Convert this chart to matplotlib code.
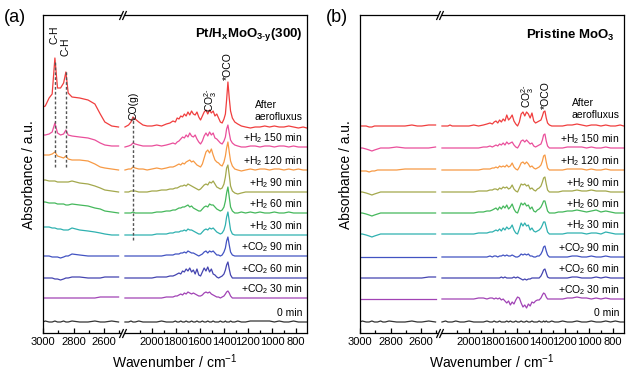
import matplotlib
matplotlib.use('Agg')

import matplotlib.pyplot as plt
import numpy as np

plt.rcParams['font.family'] = ['Liberation Sans', 'DejaVu Sans']
plt.rcParams['mathtext.fontset'] = 'custom'
plt.rcParams['mathtext.rm'] = 'Liberation Sans'
plt.rcParams['mathtext.it'] = 'Liberation Sans:italic'
plt.rcParams['mathtext.bf'] = 'Liberation Sans:bold'

# wavenumber grids of the two pieces of the broken axis
wn_left = [3000, 2985, 2960, 2940, 2922, 2905, 2885, 2865, 2850, 2835,
           2810, 2760, 2705, 2660, 2625, 2595, 2550, 2505]
wn_right = [2225, 2195, 2175, 2158, 2140, 2110, 2075, 2040,
            2000, 1960, 1920, 1880, 1850, 1825, 1805, 1790,
            1775, 1760, 1745, 1730, 1715, 1700, 1685, 1670,
            1655, 1640, 1625, 1610, 1595, 1580, 1565, 1550,
            1535, 1520, 1505, 1490, 1475, 1460, 1445, 1430,
            1415, 1400, 1388, 1378, 1367, 1356, 1345, 1330,
            1310, 1285, 1255, 1220, 1180, 1140, 1100, 1060,
            1020, 980, 940, 900, 860, 820, 780, 740,
            710]

labels = ['After\naerofluxus', '+H$_2$ 150 min', '+H$_2$ 120 min', '+H$_2$ 90 min',
          '+H$_2$ 60 min', '+H$_2$ 30 min', '+CO$_2$ 90 min', '+CO$_2$ 60 min',
          '+CO$_2$ 30 min', '0 min']
colors = ['#f03e3e', '#ea4f9b', '#f79a45', '#a3a84c', '#45b85c',
          '#2fb1b0', '#4253c2', '#4444b0', '#a143b5', '#333333']

# ---- panel (a) Pt/HxMoO3-y(300), intensities relative to each trace offset
a_after_L = [21, 22, 30, 34, 70, 40, 40, 45, 56, 35, 31, 30, 28, 24, 14, 6, 2, 1]
a_h150_L = [12, 12, 13, 15, 24, 14, 12, 13, 17, 12, 11, 10, 9, 7, 4, 2, 1, 1]
a_h120_L = [15, 15, 15, 16, 18, 14, 13, 12, 14, 11, 10, 10, 9, 6, 3, 2, 1, 0]
a_h90_L = [12, 12, 11, 11, 11, 10, 10, 10, 10, 10, 11, 9, 8, 6, 4, 2, 1, 0]
a_h60_L = [11, 11, 10, 10, 10, 9, 9, 9, 8, 8, 9, 8, 7, 5, 4, 2, 1, 0]
a_h30_L = [8, 8, 8, 7, 7, 6, 6, 5, 5, 5, 7, 5, 4, 3, 2, 1, 0, 0]
a_c90_L = [0, 0, 0, -1, -1, -1, -2, -1, 0, 0, 2, 1, 0, 0, 0, 0, 0, 0]
a_c60_L = [0, 0, 0, 0, -1, -1, -2, -1, 0, 0, 1, 1, 0, 0, 0, 1, 1, 1]
a_c30_L = [0, 0, 0, 0, 0, 0, 0, 0, 0, 0, 0, 0, 0, 0, 1, 1, 1, 1]
a_zero_L = [0, 1, 0, 0, 1, 0, 0, 1, 0, 0, 1, 0, 0, 1, 0, 0, 1, 0]

a_after_R = [1, 3, 6, 11, 9, 6, 3, 2,
             2, 3, 2, 4, 5, 7, 6, 10,
             9, 12, 11, 14, 12, 16, 13, 17,
             14, 13, 16, 11, 8, 12, 16, 18,
             14, 18, 15, 17, 12, 14, 10, 6,
             5, 9, 14, 28, 46, 30, 17, 10,
             6, 4, 2, 1, 0, 1, 1, 2,
             1, 2, 1, 1, 2, 1, 0, 1,
             0]
a_h150_R = [0, 1, 2, 4, 3, 2, 1, 1,
            1, 2, 1, 2, 3, 4, 3, 5,
            6, 8, 10, 9, 12, 10, 14, 11,
            10, 12, 8, 5, 3, 6, 11, 14,
            11, 15, 12, 14, 9, 8, 6, 4,
            3, 6, 10, 18, 22, 14, 7, 4,
            2, 1, 0, 0, 1, 1, 0, 1,
            1, 0, 1, 1, 0, 1, 0, 0,
            0]
a_h120_R = [0, 1, 1, 3, 2, 1, 1, 0,
            1, 2, 1, 2, 3, 3, 4, 5,
            6, 5, 7, 6, 8, 9, 10, 8,
            9, 7, 5, 4, 3, 6, 12, 18,
            20, 17, 21, 15, 10, 8, 7, 5,
            4, 8, 14, 22, 28, 18, 9, 4,
            1, 0, -1, 0, 1, 0, 1, 1,
            0, 1, 1, 0, 1, 0, 1, 0,
            0]
a_h90_R = [0, 0, 1, 1, 1, 0, 0, 0,
           1, 1, 2, 2, 3, 3, 4, 4,
           5, 6, 6, 7, 6, 8, 7, 6,
           5, 4, 3, 2, 3, 5, 7, 8,
           7, 10, 9, 11, 8, 5, 4, 3,
           4, 8, 15, 24, 27, 17, 6, 1,
           -1, -2, -1, 0, 0, 0, 0, 0,
           0, 0, 0, 0, 0, 0, 0, 0,
           0]
a_h60_R = [0, 0, 0, 1, 0, 0, 0, 0,
           0, 1, 1, 2, 2, 3, 3, 4,
           5, 5, 6, 6, 7, 8, 6, 7,
           5, 4, 3, 2, 2, 4, 6, 7,
           6, 9, 8, 8, 6, 4, 3, 2,
           3, 6, 12, 20, 26, 16, 6, 2,
           0, 0, 1, 0, 1, 0, 1, 0,
           0, 1, 0, 0, 1, 0, 0, 0,
           0]
a_h30_R = [0, 0, 0, 0, 0, 0, 0, 0,
           0, 1, 1, 1, 2, 2, 3, 3,
           3, 4, 4, 5, 4, 6, 5, 5,
           4, 3, 2, 1, 1, 3, 5, 6,
           5, 7, 6, 7, 5, 3, 2, 1,
           2, 5, 10, 18, 23, 14, 5, 1,
           0, 0, 0, 0, 0, 0, 0, 0,
           0, 0, 0, 0, 0, 0, 0, 0,
           0]
a_c90_R = [0, 0, 0, 0, 0, 0, 0, 0,
           0, 0, 0, 1, 1, 1, 2, 2,
           2, 3, 3, 4, 3, 5, 4, 3,
           3, 2, 1, 0, 1, 2, 4, 5,
           3, 5, 4, 5, 3, 1, 1, 0,
           1, 4, 8, 15, 19, 11, 4, 1,
           0, 0, 0, 0, 0, 0, 0, 0,
           0, 0, 0, 0, 0, 0, 0, 0,
           0]
a_c60_R = [0, 0, 0, 0, 0, 0, 0, 0,
           0, 1, 1, 1, 2, 2, 3, 4,
           5, 4, 7, 6, 9, 7, 10, 6,
           8, 4, 9, 3, 2, 6, 10, 7,
           11, 6, 9, 4, 3, 1, 0, 1,
           2, 4, 8, 13, 16, 9, 3, 0,
           0, 0, 0, 0, 0, 0, 0, 0,
           0, 0, 0, 0, 0, 0, 0, 0,
           0]
a_c30_R = [0, 0, 0, 0, 0, 0, 0, 0,
           0, 0, 0, 1, 1, 1, 2, 2,
           3, 4, 3, 5, 4, 6, 5, 4,
           5, 4, 3, 2, 2, 3, 5, 6,
           5, 6, 4, 3, 2, 1, 1, 0,
           1, 2, 4, 6, 7, 5, 2, 0,
           0, 0, 0, 0, 0, 0, 0, 0,
           0, 0, 0, 0, 0, 0, 0, 0,
           0]
a_zero_R = [0, 0, 1, 0, 0, 1, 0, 0,
            0, 0, 1, 0, 0, 0, 1, 0,
            0, 1, 0, 0, 1, 0, 0, 1,
            0, 0, 1, 0, 0, 1, 0, 0,
            1, 0, 0, 1, 0, 0, 0, 1,
            0, 0, 1, 0, 0, 0, 1, 0,
            0, 1, 0, 0, 1, 1, 1, 1,
            1, 0, 1, 0, 0, 1, 0, 0,
            0]
a_offsets = [205, 186, 163, 141, 120, 98, 77, 55, 35, 11]

# ---- panel (b) Pristine MoO3
b_after_L = [0, 0, 0, -1, -1, 0, 0, 0, 0, 0, 0, 0, 0, 1, 0, 0, 1, 1]
b_h150_L = [0, 0, -1, -2, -3, -2, -1, 0, 0, 0, 0, 1, 0, 0, 0, 0, 0, 1]
b_h120_L = [-1, -1, -1, -2, -1, -1, 0, 0, 0, 0, 0, 0, 1, 1, 1, 1, 1, 1]
b_h90_L = [0, 0, -1, -2, -3, -2, -1, 0, 0, 0, 0, 0, 0, 0, 0, 0, 0, 0]
b_h60_L = [0, 0, -1, -2, -3, -2, -1, 0, 0, 0, 0, 0, 0, 0, 0, 0, 0, 0]
b_h30_L = [0, 0, -1, -2, -3, -2, -1, 0, 0, 0, 0, 0, 0, 0, 0, 0, 0, 0]
b_c90_L = [0, 0, 0, 0, 0, 0, 0, 0, 0, 0, 0, 0, 0, 0, 0, 0, 0, 0]
b_c60_L = [0, 0, 0, 0, 0, 0, 0, 0, 0, 0, 0, 0, 0, 0, 0, 0, 1, 1]
b_c30_L = [0, 0, 0, 0, 0, 0, 0, 0, 0, 0, 0, 0, 0, 0, 0, 0, 0, 0]
b_zero_L = [0, 1, 0, 0, 1, 0, 0, 1, 0, 0, 1, 0, 0, 1, 0, 0, 1, 0]

b_after_R = [0, 0, 0, 1, 0, 0, 0, 0,
             0, 1, 0, 1, 2, 3, 2, 4,
             5, 3, 6, 4, 7, 5, 11, 6,
             8, 11, 5, 2, 0, 4, 12, 14,
             10, 14, 12, 8, 13, 5, 3, 4,
             5, 6, 10, 14, 15, 8, 3, 1,
             0, 0, 0, 0, 1, 1, 2, 1,
             0, 1, 1, 0, 1, 0, 0, 1,
             0]
b_h150_R = [0, 0, 0, 0, 0, 0, 0, 0,
            0, 0, 0, 1, 1, 2, 1, 2,
            3, 2, 4, 3, 5, 3, 6, 4,
            5, 6, 3, 1, 0, 3, 7, 8,
            6, 8, 6, 4, 5, 2, 1, 2,
            3, 4, 8, 13, 14, 7, 2, 0,
            0, 0, 0, 0, 1, 1, 1, 1,
            0, 1, 0, 0, 1, 0, 0, 0,
            0]
b_h120_R = [0, 0, 0, 0, 0, 0, 0, 0,
            0, 0, 0, 1, 1, 1, 2, 2,
            3, 2, 4, 3, 4, 3, 5, 3,
            4, 7, 3, 1, 0, 3, 7, 8,
            6, 8, 6, 3, 4, 2, 1, 2,
            3, 5, 9, 14, 15, 8, 2, 0,
            0, 0, 0, 0, 1, 1, 1, 1,
            0, 1, 0, 0, 1, 0, 0, 0,
            0]
b_h90_R = [0, 0, 0, 0, 0, 0, 0, 0,
           0, 0, 1, 1, 1, 2, 2, 3,
           3, 2, 4, 3, 5, 4, 5, 3,
           4, 7, 3, 1, 0, 4, 8, 7,
           8, 6, 7, 3, 4, 2, 1, 3,
           4, 6, 10, 14, 15, 8, 2, 0,
           0, 0, 0, 1, 1, 1, 2, 1,
           1, 2, 1, 1, 1, 0, 0, 0,
           0]
b_h60_R = [0, 0, 0, 0, 0, 0, 0, 0,
           0, 0, 1, 1, 2, 2, 3, 4,
           5, 3, 6, 4, 7, 5, 8, 4,
           6, 9, 4, 1, 0, 5, 10, 8,
           10, 7, 8, 4, 6, 2, 1, 3,
           4, 6, 9, 12, 12, 7, 2, 0,
           0, 0, 1, 1, 2, 2, 3, 2,
           1, 2, 3, 1, 2, 1, 0, 0,
           0]
b_h30_R = [0, 0, 0, 0, 0, 0, 0, 0,
           0, 0, 1, 1, 1, 2, 2, 3,
           4, 3, 5, 3, 6, 4, 7, 5,
           6, 9, 4, 1, 0, 5, 11, 8,
           11, 8, 9, 4, 6, 3, 2, 3,
           4, 6, 9, 12, 12, 7, 2, 0,
           0, 0, 0, 0, 1, 1, 1, 1,
           0, 1, 1, 0, 2, 1, 0, 0,
           0]
b_c90_R = [0, 0, 0, 0, 0, 0, 0, 0,
           0, 0, 0, 0, 0, 1, 0, 1,
           1, 0, 1, 1, 2, 1, 2, 1,
           1, 2, 1, 0, 0, 1, 3, 2,
           3, 2, 3, 1, 1, 0, 0, 1,
           1, 3, 6, 10, 11, 6, 2, 0,
           0, 0, 0, 0, 0, 1, 1, 0,
           0, 1, 0, 0, 1, 0, 0, 0,
           0]
b_c60_R = [0, 0, 0, 0, 0, 0, 0, 0,
           0, 0, 0, 0, 0, 0, 0, 0,
           0, 0, 0, 1, 0, 1, 0, 0,
           0, 0, 1, 0, 1, 0, -1, -2,
           -1, -2, -1, -1, 0, 0, 0, 0,
           0, 2, 5, 8, 9, 5, 1, 0,
           0, 0, 0, 0, 0, 1, 1, 0,
           0, 0, 1, 0, 1, 0, 0, 0,
           0]
b_c30_R = [0, 0, 0, 0, 0, 0, 0, 0,
           0, 0, 1, 1, 0, 1, 1, 0,
           1, 0, 1, -1, 0, -2, -4, -2,
           -6, -3, -5, -1, 2, 1, -4, -8,
           -6, -9, -5, -7, -3, -4, -2, -1,
           -1, 1, 4, 6, 5, 2, 0, 0,
           0, 0, 0, 0, 1, 1, 2, 1,
           1, 0, 1, 0, 1, 0, 0, 0,
           0]
b_zero_R = [0, 1, 0, 0, 0, 1, 0, 0,
            1, 0, 0, 0, 1, 0, 0, 1,
            0, 0, 1, 0, 0, 0, 1, 0,
            1, 0, 0, 1, 0, 0, 1, 0,
            0, 1, 0, 0, 1, 0, 0, 0,
            1, 0, 0, 1, 0, 1, 0, 0,
            1, 0, 0, 1, 0, 0, 1, 0,
            0, 1, 0, 0, 1, 0, 1, 0,
            0]
b_offsets = [207, 185, 163, 141, 120, 99, 76, 55, 34, 11]

a_left = [a_after_L, a_h150_L, a_h120_L, a_h90_L, a_h60_L, a_h30_L,
          a_c90_L, a_c60_L, a_c30_L, a_zero_L]
a_right = [a_after_R, a_h150_R, a_h120_R, a_h90_R, a_h60_R, a_h30_R,
           a_c90_R, a_c60_R, a_c30_R, a_zero_R]
b_left = [b_after_L, b_h150_L, b_h120_L, b_h90_L, b_h60_L, b_h30_L,
          b_c90_L, b_c60_L, b_c30_L, b_zero_L]
b_right = [b_after_R, b_h150_R, b_h120_R, b_h90_R, b_h60_R, b_h30_R,
           b_c90_R, b_c60_R, b_c30_R, b_zero_R]

W, H = 630, 371
fig = plt.figure(figsize=(W / 100, H / 100), dpi=100)


def setup_axes(x0):
    axl = fig.add_axes([x0 / W, 38 / H, 78 / W, 318 / H])
    axr = fig.add_axes([(x0 + 81) / W, 38 / H, 183 / W, 318 / H])
    axl.set_xlim(3000, 2489)
    axr.set_xlim(2233, 708)
    for ax in (axl, axr):
        ax.set_ylim(0, 318)
        ax.set_yticks([])
        ax.tick_params(axis='x', which='both', direction='in', labelsize=8, pad=3)
        ax.tick_params(axis='x', which='major', length=3.5, width=0.9)
        ax.tick_params(axis='x', which='minor', length=2, width=0.9)
        for s in ax.spines.values():
            s.set_linewidth(0.9)
    axl.spines['right'].set_visible(False)
    axr.spines['left'].set_visible(False)
    axl.set_xticks([3000, 2800, 2600])
    axl.set_xticks([2900, 2700, 2500], minor=True)
    axr.set_xticks([2000, 1800, 1600, 1400, 1200, 1000, 800])
    axr.set_xticks([2100, 1900, 1700, 1500, 1300, 1100, 900], minor=True)
    # break marks
    kw = dict(marker=[(-1, -2.2), (1, 2.2)], markersize=6.5, linestyle='none',
              color='k', mec='k', mew=0.9, clip_on=False)
    axl.plot([1, 1], [0, 1], transform=axl.transAxes, **kw)
    axr.plot([0, 0], [0, 1], transform=axr.transAxes, **kw)
    return axl, axr


def draw_traces(axl, axr, left, right, offsets):
    for yl, yr, off, c in zip(left, right, offsets, colors):
        axl.plot(wn_left, np.asarray(yl) + off, color=c, lw=0.9)
        axr.plot(wn_right, np.asarray(yr) + off, color=c, lw=0.9)
    for i, (lab, off) in enumerate(zip(labels, offsets)):
        if i == 0:
            axr.text(745, off + 17, lab, ha='right', va='center', fontsize=7.5,
                     multialignment='left', linespacing=1.25)
        else:
            axr.text(745, off + 9, lab, ha='right', va='center', fontsize=7.5)


# panel (a)
axl, axr = setup_axes(43)
draw_traces(axl, axr, a_left, a_right, a_offsets)
dash = dict(color='#555555', lw=1.0, linestyle=(0, (2, 1.5)))
axl.plot([2922, 2922], [166, 273], **dash)
axl.plot([2850, 2850], [166, 262], **dash)
axr.plot([2158, 2158], [93, 216], **dash)
axl.text(2922, 298, 'C-H', rotation=90, ha='center', va='center', fontsize=7.5)
axl.text(2850, 286, 'C-H', rotation=90, ha='center', va='center', fontsize=7.5)
axr.text(2158, 227, 'CO(g)', rotation=90, ha='center', va='center', fontsize=7.5)
axr.text(1508, 233, 'CO$_3^{2\\text{-}}$', rotation=90, ha='center', va='center', fontsize=7.5)
axr.text(1367, 267, '*OCO', rotation=90, ha='center', va='center', fontsize=7.5)
fig.text(303 / W, 1 - 35 / H, 'Pt/H$_\\mathbf{x}$MoO$_\\mathbf{3\\text{-}y}$(300)', ha='right',
         va='center', fontsize=9.5, fontweight='bold')

# panel (b)
bxl, bxr = setup_axes(360)
draw_traces(bxl, bxr, b_left, b_right, b_offsets)
bxr.text(1508, 237, 'CO$_3^{2\\text{-}}$', rotation=90, ha='center', va='center', fontsize=7.5)
bxr.text(1358, 238, '*OCO', rotation=90, ha='center', va='center', fontsize=7.5)
fig.text(615 / W, 1 - 35 / H, 'Pristine MoO$_\\mathbf{3}$', ha='right',
         va='center', fontsize=9.5, fontweight='bold')

# panel tags and axis titles
fig.text(4 / W, 1 - 17 / H, '(a)', fontsize=13, va='center')
fig.text(326 / W, 1 - 17 / H, '(b)', fontsize=13, va='center')
for xc in (175, 492):
    fig.text(xc / W, 1 - 362 / H, 'Wavenumber / cm$^{-1}$', ha='center', va='center', fontsize=10)
for xc in (29, 346):
    fig.text(xc / W, 1 - 175 / H, 'Absorbance / a.u.', ha='center', va='center',
             rotation=90, fontsize=10)

plt.savefig('out.png', dpi=100)
plt.close()
